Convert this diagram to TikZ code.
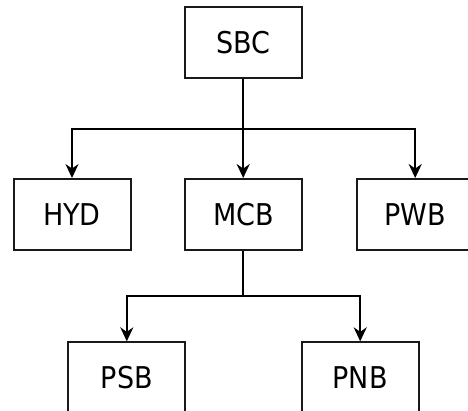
\documentclass[tikz,border=0pt]{standalone}
\usepackage{fontspec}
\setmainfont{DejaVu Sans Condensed}
\usetikzlibrary{arrows.meta}
\begin{document}
\begin{tikzpicture}[x=1pt,y=-1pt,
  box/.style={draw=black!90, line width=2pt, minimum width=117pt, minimum height=70.5pt, inner sep=0pt, font=\fontsize{30}{36}\selectfont},
  conn/.style={draw=black, line width=2pt},
  arr/.style={conn, -{Stealth[length=14pt,width=13pt,inset=4.5pt]}}]
\useasboundingbox (0,0) rectangle (468,411);
\clip (0,0) rectangle (468,411);
\node[box] (sbc) at (243.2,42.7) {SBC};
\node[box] (hyd) at (72,214.3) {HYD};
\node[box] (mcb) at (243.5,214.3) {MCB};
\node[box] (pwb) at (415.2,214.3) {PWB};
\node[box] (psb) at (126.8,377.6) {PSB};
\node[box] (pnb) at (360.2,377.6) {PNB};
\coordinate (b1) at (243.2,129);
\coordinate (b2) at (243.2,296);
\draw[conn] (sbc.south) -- (b1);
\draw[arr] (b1) -| (hyd.north);
\draw[arr] (b1) -- (b1 |- mcb.north);
\draw[arr] (b1) -| (pwb.north);
\draw[conn] (b2 |- mcb.south) -- (b2);
\draw[arr] (b2) -| (psb.north);
\draw[arr] (b2) -| (pnb.north);
\end{tikzpicture}
\end{document}
